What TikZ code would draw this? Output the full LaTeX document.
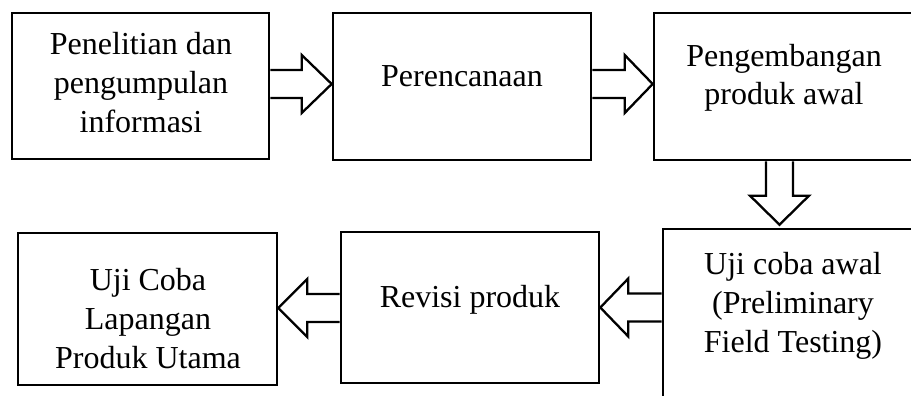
\documentclass[tikz,border=0pt]{standalone}
\usepackage{fontspec}
\setmainfont{Liberation Serif}
\usetikzlibrary{calc}

\tikzset{
  stagebox/.style={draw=black, line width=2.6pt, inner sep=0pt, fill=none},
  stagetext/.style={align=center, inner sep=0pt, anchor=base,
                    font=\fontsize{32}{39}\selectfont},
  blockarrow/.style={draw=black, line width=2.3pt, line join=miter, fill=white}
}

\begin{document}
\begin{tikzpicture}[x=1pt, y=-1pt]
  \useasboundingbox (0,0) rectangle (911,396);
  \clip (0,0) rectangle (911,396);

  % stage boxes
  \node[stagebox, minimum width=257pt, minimum height=146pt] (b1) at (140.5,86) {};
  \node[stagebox, minimum width=258pt, minimum height=147pt] (b2) at (462,86.5) {};
  \node[stagebox, minimum width=260pt, minimum height=147pt] (b3) at (784,86.5) {};
  \node[stagebox, minimum width=260pt, minimum height=201pt] (b4) at (793,329.5) {};
  \node[stagebox, minimum width=258pt, minimum height=151pt] (b5) at (470,307.5) {};
  \node[stagebox, minimum width=259pt, minimum height=152pt] (b6) at (147.5,309) {};

  % stage labels (positioned by the baseline of their last line)
  \node[stagetext] (t1) at (141,132) {Penelitian dan\\pengumpulan\\informasi};
  \node[stagetext] (t2) at (462,87) {Perencanaan};
  \node[stagetext] (t3) at (784,105) {Pengembangan\\produk awal};
  \node[stagetext] (t4) at (793,352) {Uji coba awal\\(Preliminary\\Field Testing)};
  \node[stagetext] (t5) at (470,307) {Revisi produk};
  \node[stagetext] (t6) at (148,368) {Uji Coba\\Lapangan\\Produk Utama};

  % axes of the block arrows
  \coordinate (a1) at (0,84);
  \coordinate (a2) at (0,84);
  \coordinate (a3) at (0,307.5);
  \coordinate (a4) at (0,308);
  \coordinate (ad) at (779.5,0);

  % b1 -> b2
  \draw[blockarrow] ($(b1.east |- a1)+(0,-14)$) -- ($(b2.west |- a1)+(-30,-14)$)
    -- ($(b2.west |- a1)+(-30,-29)$) -- (b2.west |- a1)
    -- ($(b2.west |- a1)+(-30,29)$) -- ($(b2.west |- a1)+(-30,14)$)
    -- ($(b1.east |- a1)+(0,14)$);
  % b2 -> b3
  \draw[blockarrow] ($(b2.east |- a2)+(0,-14)$) -- ($(b3.west |- a2)+(-28,-14)$)
    -- ($(b3.west |- a2)+(-28,-29)$) -- (b3.west |- a2)
    -- ($(b3.west |- a2)+(-28,29)$) -- ($(b3.west |- a2)+(-28,14)$)
    -- ($(b2.east |- a2)+(0,14)$);
  % b3 -> b4 (downwards)
  \draw[blockarrow] ($(b3.south -| ad)+(-13.5,0)$) -- ($(b4.north -| ad)+(-13.5,-32)$)
    -- ($(b4.north -| ad)+(-29.5,-32)$) -- ($(b4.north -| ad)+(0,-3)$)
    -- ($(b4.north -| ad)+(29.5,-32)$) -- ($(b4.north -| ad)+(13.5,-32)$)
    -- ($(b3.south -| ad)+(13.5,0)$);
  % b4 -> b5 (leftwards)
  \draw[blockarrow] ($(b4.west |- a3)+(0,-14)$) -- ($(b5.east |- a3)+(28,-14)$)
    -- ($(b5.east |- a3)+(28,-29)$) -- (b5.east |- a3)
    -- ($(b5.east |- a3)+(28,29)$) -- ($(b5.east |- a3)+(28,14)$)
    -- ($(b4.west |- a3)+(0,14)$);
  % b5 -> b6 (leftwards)
  \draw[blockarrow] ($(b5.west |- a4)+(0,-14)$) -- ($(b6.east |- a4)+(29,-14)$)
    -- ($(b6.east |- a4)+(29,-29)$) -- (b6.east |- a4)
    -- ($(b6.east |- a4)+(29,29)$) -- ($(b6.east |- a4)+(29,14)$)
    -- ($(b5.west |- a4)+(0,14)$);
\end{tikzpicture}
\end{document}
